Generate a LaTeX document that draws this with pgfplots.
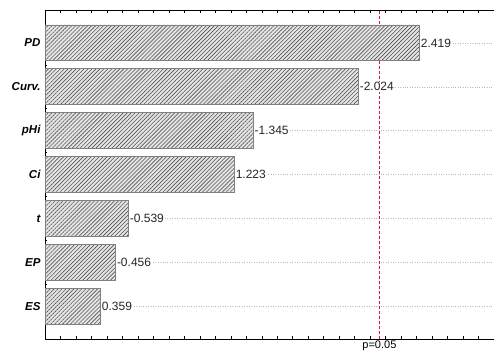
\documentclass[border=0pt]{standalone}
\usepackage{pgfplots}
\pgfplotsset{compat=1.18}
\usepackage{pgfplotstable}
\usetikzlibrary{patterns.meta}
\usepackage{fontspec}
\setmainfont{Liberation Sans}

\definecolor{critred}{RGB}{220,20,60}

% standardized effects: absolute value for the bar, signed value as label
\pgfplotstableread{
y v lab
0 0.359 0.359
1 0.456 -0.456
2 0.539 -0.539
3 1.223 1.223
4 1.345 -1.345
5 2.024 -2.024
6 2.419 2.419
}\effects

\begin{document}
\begin{tikzpicture}
\useasboundingbox (0,0) rectangle (494pt,351pt);
\begin{axis}[
  at={(45pt,12pt)}, anchor=south west,
  scale only axis, width=449pt, height=329pt,
  xmin=0, xmax=2.9, ymin=-0.75, ymax=6.75,
  axis x line=box, axis y line=left,
  axis line style={-, black, line width=0.8pt},
  every outer x axis line/.append style={-},
  every outer y axis line/.append style={-},
  tick align=inside,
  major tick length=3pt, minor tick length=2pt,
  tick style={black, line width=0.5pt},
  xtick={0,0.1,...,2.9}, xticklabel=\empty,
  ytick={0,1,2,3,4,5,6},
  yticklabels={ES,EP,t,Ci,pHi,Curv.,PD},
  minor y tick num=1,
  yticklabel style={font=\fontsize{11.5}{13}\selectfont\bfseries\itshape, xshift=-1pt},
  ymajorgrids, major grid style={dotted, gray!55, line width=0.45pt},
  clip=false,
]
% critical value of the test statistic (p = 0.05)
\addplot[sharp plot, mark=none, draw=critred, line width=1pt,
  dash pattern=on 3pt off 2pt]
  coordinates {(2.16,-0.75) (2.16,6.75)};
\addplot[xbar, bar width=0.82, bar shift=0pt,
  draw=gray, line width=0.8pt, fill=gray!20,
  postaction={pattern={Lines[angle=45, distance=2.8pt, line width=0.6pt]},
              pattern color=gray!65!black},
  nodes near coords, point meta=explicit symbolic,
  nodes near coords style={anchor=west, fill=white, inner sep=1pt,
    font=\fontsize{12}{14}\selectfont, text=black!85}]
  table[x=v, y=y, meta=lab] {\effects};
\node[anchor=south, font=\fontsize{11}{13}\selectfont, inner sep=0pt]
  at ([yshift=-11.6pt]axis cs:2.16,-0.75) {p=0.05};
\end{axis}
\end{tikzpicture}
\end{document}
